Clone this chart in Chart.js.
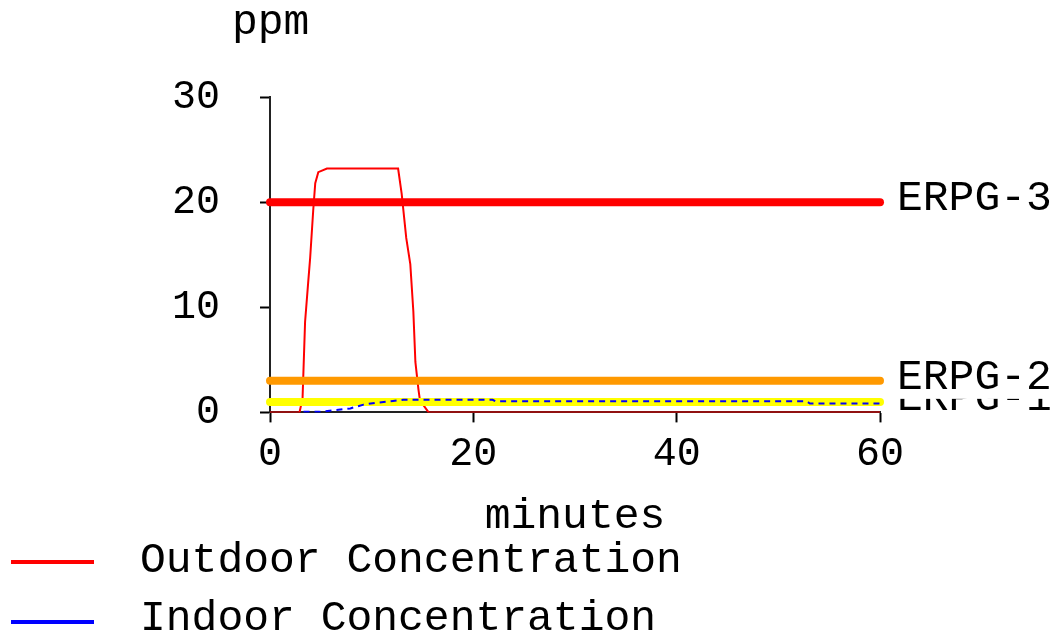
<!DOCTYPE html>
<html>
<head>
<meta charset="utf-8">
<script src="https://cdn.jsdelivr.net/npm/chart.js"></script>
<style>
    body { margin: 0; background: #fff; }
    #wrap { position: relative; width: 1057px; height: 638px; }
    #chart { position: absolute; left: 0; top: 0; }
    .leg { position: absolute; left: 0; font: 43px "Liberation Mono", monospace; line-height: 43px; color: #000; white-space: nowrap; }
    .leg .swatch { position: absolute; left: 11px; width: 83px; height: 4px; }
    .leg span { position: absolute; left: 140px; top: 0; }
</style>
</head>
<body>
<div id="wrap">
    <canvas id="chart" width="1057" height="638"></canvas>
    <div class="leg" style="top:539px"><div class="swatch" style="top:21px;background:#ff0000"></div><span>Outdoor Concentration</span></div>
    <div class="leg" style="top:597px"><div class="swatch" style="top:23px;background:#0000ff"></div><span>Indoor Concentration</span></div>
</div>
<script>
    // outdoor concentration (ppm) vs minutes
    const outdoorTime = [0, 2.9, 3.2, 3.45, 3.75, 3.95, 4.25, 4.45, 4.75, 5.6, 12.6, 12.95, 13.4, 13.8, 14.1, 14.3, 14.6, 14.75, 15.6, 60];
    const outdoorPpm  = [0, 0, 1.3, 8.6, 12.3, 14.7, 19.2, 21.8, 22.85, 23.2, 23.2, 20.8, 16.6, 14.1, 9.6, 4.8, 2.2, 1.15, 0, 0];

    // indoor concentration (ppm) vs minutes
    const indoorTime = [3.3, 4.9, 7.9, 9.2, 10.3, 12.1, 13.1, 21.9, 22.2, 52.8, 53.1, 60];
    const indoorPpm  = [0.05, 0.05, 0.38, 0.74, 0.9, 1.08, 1.2, 1.2, 1.05, 1.05, 0.85, 0.85];

    // threshold levels
    const erpgNames  = ['ERPG-3', 'ERPG-2', 'ERPG-1'];
    const erpgLevels = [20, 3, 1];
    const erpgColors = ['#ff0000', '#ff9900', '#ffff00'];

    const xTicks = [0, 20, 40, 60];
    const yTicks = [0, 10, 20, 30];

    const FONT = '"Liberation Mono", monospace';

    function pts(xs, ys) {
        return xs.map((x, i) => ({ x: x, y: ys[i] }));
    }

    const datasets = [{
        label: 'Indoor Concentration',
        data: pts(indoorTime, indoorPpm),
        borderColor: '#0000ff',
        borderWidth: 2,
        borderDash: [6, 5],
        pointRadius: 0,
        tension: 0
    }];
    erpgNames.forEach((name, i) => {
        datasets.push({
            label: name,
            data: pts([xTicks[0], xTicks[xTicks.length - 1]], [erpgLevels[i], erpgLevels[i]]),
            borderColor: erpgColors[i],
            borderWidth: 8,
            borderCapStyle: 'round',
            pointRadius: 0,
            clip: false
        });
    });
    datasets.push({
        label: 'Outdoor Concentration',
        data: pts(outdoorTime, outdoorPpm),
        borderColor: '#ff0000',
        borderWidth: 2,
        pointRadius: 0,
        tension: 0
    });

    // ERPG labels at right end of each line, plus "ppm" above the y axis
    const labelsPlugin = {
        id: 'erpgLabels',
        afterDatasetsDraw(chart) {
            const ctx = chart.ctx;
            const area = chart.chartArea;
            const ys = chart.scales.y;
            ctx.save();
            ctx.font = '43px ' + FONT;
            ctx.textBaseline = 'alphabetic';
            ctx.textAlign = 'left';
            // draw lowest first so upper labels cover it
            for (let i = erpgNames.length - 1; i >= 0; i--) {
                const base = ys.getPixelForValue(erpgLevels[i]) + 8;
                ctx.fillStyle = '#fff';
                ctx.fillRect(area.right + 14, base - 34, 200, 44);
                ctx.fillStyle = '#000';
                ctx.fillText(erpgNames[i], area.right + 17, base);
            }
            ctx.fillText('ppm', area.left - 38, area.top - 63);
            ctx.restore();
        }
    };

    new Chart(document.getElementById('chart'), {
        type: 'line',
        data: { datasets: datasets },
        options: {
            responsive: false,
            animation: false,
            layout: { padding: { left: 170, right: 177, top: 97, bottom: 88 } },
            plugins: {
                legend: { display: false },
                tooltip: { enabled: false }
            },
            scales: {
                x: {
                    type: 'linear',
                    min: xTicks[0],
                    max: xTicks[xTicks.length - 1],
                    afterBuildTicks: s => { s.ticks = xTicks.map(v => ({ value: v })); },
                    grid: { drawOnChartArea: false, tickLength: 10, tickColor: '#000', tickWidth: 2 },
                    border: { color: '#222', width: 2 },
                    ticks: { color: '#000', padding: 8, maxRotation: 0, font: { family: FONT, size: 40 } },
                    title: { display: true, text: 'minutes', color: '#000', padding: { top: 4, bottom: 8 }, font: { family: FONT, size: 43 } }
                },
                y: {
                    type: 'linear',
                    min: yTicks[0],
                    max: yTicks[yTicks.length - 1],
                    afterBuildTicks: s => { s.ticks = yTicks.map(v => ({ value: v })); },
                    afterFit: s => { s.width = 100; },
                    grid: { drawOnChartArea: false, tickLength: 10, tickColor: '#000', tickWidth: 2 },
                    border: { color: '#222', width: 2 },
                    ticks: { color: '#000', padding: 40, font: { family: FONT, size: 40 } }
                }
            }
        },
        plugins: [labelsPlugin]
    });
</script>
</body>
</html>
